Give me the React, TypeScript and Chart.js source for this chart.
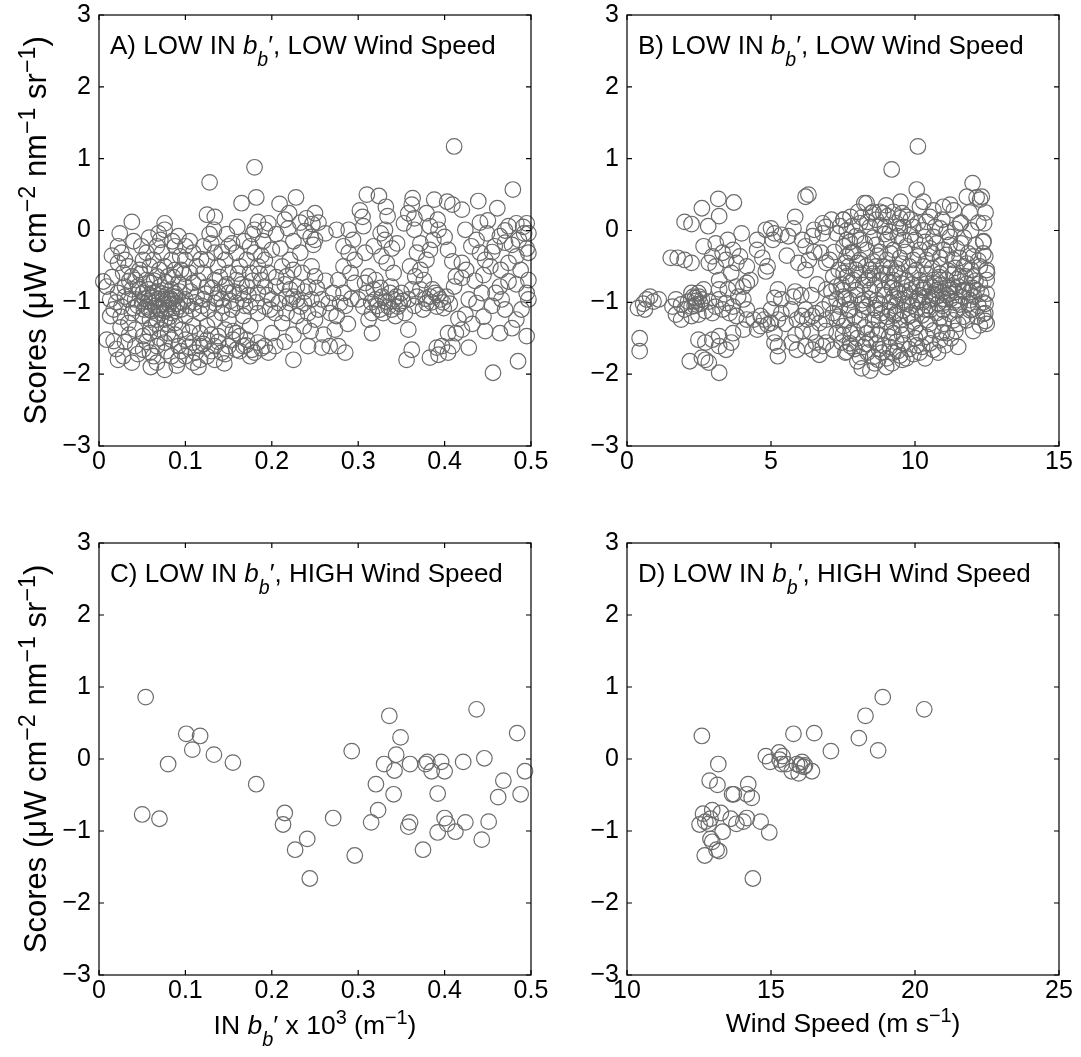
import React, { useEffect, useRef } from "react";
import { Chart, registerables } from "chart.js";

Chart.register(...registerables);

// ---------------- data ----------------
const yTicks = [-3, -2, -1, 0, 1, 2, 3];
const yTickLabels = ["\u22123", "\u22122", "\u22121", "0", "1", "2", "3"];
const inbbTicks = [0, 0.1, 0.2, 0.3, 0.4, 0.5];
const inbbTickLabels = ["0", "0.1", "0.2", "0.3", "0.4", "0.5"];
const windLowTicks = [0, 5, 10, 15];
const windLowTickLabels = ["0", "5", "10", "15"];
const windHighTicks = [10, 15, 20, 25];
const windHighTickLabels = ["10", "15", "20", "25"];

// Panel A: scores vs IN bb' (low IN bb', low wind)
const panelA: [number, number][] = [
  [0.411,1.17],[0.180,0.88],[0.128,0.67],[0.479,0.57],[0.182,0.46],[0.228,0.46],[0.165,0.38],[0.209,0.37],[0.310,0.50],[0.324,0.48],
  [0.363,0.45],[0.388,0.43],[0.403,0.40],[0.409,0.36],[0.439,0.41],[0.461,0.31],[0.362,0.36],[0.302,0.28],[0.332,0.33],[0.420,0.29],
  [0.334,0.20],[0.358,0.24],[0.379,0.24],[0.250,0.24],[0.125,0.22],[0.134,0.19],[0.220,0.24],[0.305,0.19],[0.365,0.17],[0.392,0.15],
  [0.441,0.11],[0.450,0.14],[0.038,0.12],[0.076,0.10],[0.133,0.01],[0.184,0.12],[0.180,0.01],[0.192,0.01],[0.240,0.17],[0.233,0.11],
  [0.247,0.09],[0.254,0.11],[0.238,-0.01],[0.245,-0.09],[0.250,-0.13],[0.262,-0.04],[0.248,-0.20],[0.219,0.03],[0.275,0.01],[0.289,0.01],
  [0.306,0.06],[0.326,-0.04],[0.331,0.01],[0.353,0.10],[0.365,0.01],[0.383,0.06],[0.393,0.01],[0.400,-0.09],[0.424,0.01],[0.495,0.10],
  [0.483,0.10],[0.474,0.06],[0.492,-0.04],[0.497,-0.04],[0.495,-0.25],[0.486,-0.13],[0.470,-0.17],[0.458,-0.22],[0.464,-0.08],[0.449,-0.04],
  [0.437,-0.13],[0.431,-0.22],[0.441,-0.31],[0.447,-0.41],[0.453,-0.50],[0.474,-0.45],[0.483,-0.36],[0.497,-0.31],[0.497,-0.69],[0.483,-0.75],
  [0.474,-0.71],[0.464,-0.78],[0.495,-0.87],[0.497,-0.96],[0.489,-1.10],[0.483,-1.24],[0.478,-1.36],[0.495,-1.47],[0.485,-1.82],[0.464,-1.43],
  [0.456,-1.98],[0.459,-0.87],[0.466,-0.96],[0.437,-1.01],[0.443,-0.87],[0.428,-0.96],[0.424,-1.17],[0.428,-1.63],[0.420,-1.38],[0.416,-1.23],
  [0.413,-1.43],[0.409,-1.61],[0.404,-1.43],[0.404,-1.70],[0.393,-1.73],[0.397,-1.61],[0.383,-1.77],[0.391,-1.63],[0.411,-0.78],[0.413,-0.64],
  [0.420,-0.66],[0.409,-0.43],[0.420,-0.45],[0.404,-0.27],[0.389,-0.87],[0.395,-0.96],[0.383,-0.92],[0.391,-1.06],[0.379,-1.01],[0.372,-0.82],
  [0.376,-0.69],[0.372,-0.55],[0.379,-0.41],[0.383,-0.27],[0.387,-0.13],[0.372,-0.18],[0.368,-0.31],[0.366,-0.64],[0.360,-0.50],[0.362,-0.82],
  [0.358,-0.96],[0.354,-1.15],[0.358,-1.38],[0.362,-1.66],[0.356,-1.80],[0.350,-0.87],[0.346,-1.06],[0.343,-1.19],[0.341,-0.96],[0.335,-1.06],
  [0.337,-0.87],[0.331,-0.99],[0.325,-1.10],[0.329,-1.15],[0.320,-0.96],[0.316,-1.15],[0.316,-1.43],[0.312,-1.24],[0.310,-0.87],[0.306,-1.06],
  [0.308,-0.73],[0.312,-0.64],[0.320,-0.69],[0.300,-0.96],[0.296,-0.73],[0.291,-0.59],[0.296,-0.41],[0.289,-0.31],[0.283,-0.22],[0.294,-0.13],
  [0.308,-0.31],[0.318,-0.22],[0.327,-0.36],[0.333,-0.45],[0.341,-0.59],[0.331,-0.13],[0.339,-0.25],[0.345,-0.18],[0.283,-0.50],[0.277,-0.69],
  [0.283,-0.87],[0.279,-1.01],[0.271,-0.87],[0.266,-1.01],[0.275,-1.19],[0.273,-1.38],[0.267,-1.61],[0.277,-1.61],[0.285,-1.70],[0.258,-1.63],
  [0.258,-0.96],[0.254,-1.10],[0.250,-1.24],[0.246,-0.96],[0.242,-1.15],[0.237,-1.33],[0.242,-1.61],[0.225,-1.80],[0.233,-1.06],[0.229,-1.19],
  [0.221,-1.01],[0.217,-1.15],[0.212,-1.29],[0.221,-0.82],[0.229,-0.78],[0.235,-0.59],[0.225,-0.55],[0.217,-0.64],[0.212,-0.50],[0.221,-0.41],
  [0.233,-0.31],[0.246,-0.50],[0.250,-0.64],[0.242,-0.78],[0.205,-0.78],[0.200,-0.96],[0.204,-1.15],[0.200,-1.43],[0.204,-1.61],[0.196,-1.70],
  [0.192,-1.61],[0.184,-1.56],[0.177,-1.66],[0.171,-1.52],[0.167,-1.61],[0.163,-1.47],[0.159,-1.43],[0.175,-1.75],[0.159,-1.66],[0.150,-1.61],
  [0.142,-1.70],[0.134,-1.80],[0.125,-1.75],[0.117,-1.80],[0.109,-1.84],[0.100,-1.75],[0.092,-1.80],[0.084,-1.75],[0.076,-1.94],[0.067,-1.84],
  [0.059,-1.70],[0.051,-1.66],[0.042,-1.61],[0.038,-1.84],[0.022,-1.80],[0.028,-1.75],[0.009,-1.52],[0.017,-1.54],[0.134,-1.61],[0.125,-1.52],
  [0.117,-1.43],[0.117,-1.61],[0.109,-1.56],[0.100,-1.52],[0.092,-1.61],[0.084,-1.52],[0.076,-1.56],[0.067,-1.61],[0.059,-1.43],[0.051,-1.47],
  [0.042,-1.38],[0.096,-1.38],[0.109,-1.33],[0.125,-1.33],[0.138,-1.47],[0.146,-1.38],[0.150,-1.24],[0.142,-1.15],[0.134,-1.24],[0.154,-1.10],
  [0.009,-0.78],[0.005,-0.71],[0.013,-0.96],[0.017,-1.10],[0.013,-1.19],[0.022,-0.87],[0.026,-1.06],[0.030,-0.78],[0.028,-0.59],[0.022,-0.45],
  [0.026,-0.31],[0.022,-0.22],[0.024,-0.04],[0.030,-0.41],[0.034,-0.50],[0.038,-0.64],[0.038,-0.82],[0.034,-0.96],[0.038,-1.15],[0.034,-1.29],
  [0.042,-0.96],[0.047,-0.82],[0.042,-0.69],[0.047,-0.55],[0.051,-0.41],[0.049,-0.22],[0.055,-0.31],[0.059,-0.50],[0.055,-0.69],[0.051,-0.87],
  [0.055,-1.06],[0.051,-1.19],[0.059,-1.24],[0.063,-0.87],[0.059,-0.73],[0.067,-0.64],[0.063,-0.41],[0.067,-0.22],[0.071,-0.13],[0.069,-0.04],
  [0.076,0.01],[0.073,-0.31],[0.076,-0.50],[0.071,-0.78],[0.067,-0.96],[0.071,-1.10],[0.067,-1.24],[0.076,-1.24],[0.080,-0.96],[0.084,-0.82],
  [0.080,-0.64],[0.084,-0.41],[0.088,-0.22],[0.092,-0.08],[0.094,-0.36],[0.088,-0.55],[0.092,-0.73],[0.088,-0.92],[0.092,-1.06],[0.084,-1.15],
  [0.088,-1.29],[0.080,-1.43],[0.071,-1.38],[0.100,-0.96],[0.100,-0.78],[0.105,-0.59],[0.100,-0.41],[0.100,-0.22],[0.109,-0.31],[0.113,-0.50],
  [0.109,-0.73],[0.113,-0.92],[0.109,-1.10],[0.100,-1.19],[0.117,-1.15],[0.121,-0.96],[0.125,-0.78],[0.121,-0.59],[0.125,-0.41],[0.121,-0.22],
  [0.130,-0.18],[0.134,-0.31],[0.138,-0.50],[0.134,-0.69],[0.138,-0.87],[0.134,-1.01],[0.142,-0.96],[0.146,-0.78],[0.150,-0.59],[0.146,-0.41],
  [0.150,-0.22],[0.154,-0.18],[0.159,-0.31],[0.163,-0.50],[0.159,-0.69],[0.163,-0.87],[0.159,-1.01],[0.167,-0.96],[0.171,-0.78],[0.175,-0.59],
  [0.171,-0.41],[0.175,-0.22],[0.180,-0.31],[0.184,-0.50],[0.188,-0.69],[0.184,-0.87],[0.192,-0.78],[0.196,-0.59],[0.192,-0.41],[0.200,-0.27],
  [0.190,-0.15],[0.175,-1.06],[0.184,-1.15],[0.175,-1.33],[0.192,-1.06],[0.167,-1.19],[0.150,-0.87],[0.208,-1.01],[0.217,-0.92],[0.229,-0.96],
  [0.237,-1.01],[0.060,-1.00],[0.065,-1.05],[0.070,-0.95],[0.075,-1.02],[0.080,-1.08],[0.085,-0.98],[0.062,-0.92],[0.078,-0.90],[0.072,-1.15],
  [0.058,-1.10],[0.090,-1.02],[0.068,-0.85],[0.045,-1.05],[0.050,-1.00],[0.082,-1.20],[0.095,-1.10],
  [0.015,-0.65],[0.020,-1.00],[0.025,-1.20],[0.030,-0.92],[0.035,-0.70],[0.040,-1.08],[0.045,-0.78],[0.048,-0.60],[0.053,-0.95],[0.057,-0.82],
  [0.061,-1.12],[0.064,-0.70],[0.066,-1.30],[0.070,-0.55],[0.073,-0.88],[0.077,-0.72],[0.079,-1.30],[0.083,-0.95],[0.086,-0.65],[0.089,-1.12],
  [0.093,-0.85],[0.097,-1.00],[0.098,-0.60],[0.103,-1.05],[0.106,-0.85],[0.111,-1.00],[0.115,-0.70],[0.119,-1.05],[0.123,-0.88],[0.127,-1.10],
  [0.131,-0.80],[0.136,-0.95],[0.140,-0.65],[0.144,-1.05],[0.148,-0.75],[0.152,-0.98],[0.156,-0.85],[0.161,-0.60],[0.165,-0.75],[0.169,-1.05],
  [0.173,-0.90],[0.178,-0.70],[0.182,-1.00],[0.186,-0.60],[0.195,-0.90],[0.198,-1.10],
  [0.020,-1.65],[0.030,-1.55],[0.045,-1.72],[0.055,-1.55],[0.063,-1.75],[0.070,-1.50],[0.078,-1.68],[0.088,-1.45],[0.095,-1.68],[0.104,-1.62],
  [0.112,-1.70],[0.121,-1.58],[0.130,-1.68],[0.138,-1.55],[0.146,-1.72],[0.155,-1.52],[0.163,-1.68],[0.170,-1.60],[0.180,-1.70],[0.188,-1.64],
  [0.060,-1.90],[0.090,-1.88],[0.115,-1.90],[0.145,-1.85],[0.105,-1.42],[0.130,-1.45],[0.155,-1.40],[0.060,-1.35],[0.035,-1.45],[0.025,-1.35],
  [0.015,-0.35],[0.040,-0.15],[0.058,-0.10],[0.085,-0.15],[0.095,-0.55],[0.105,-0.15],[0.118,-0.40],[0.128,-0.05],[0.142,-0.30],[0.148,-0.05],
  [0.160,0.05],[0.168,-0.15],[0.178,-0.05],[0.188,-0.35],[0.196,0.10],[0.205,-0.05],[0.210,-0.25],[0.215,0.15],[0.225,-0.15],
  [0.205,-0.65],[0.215,-0.75],[0.225,-0.92],[0.238,-0.85],[0.252,-0.80],[0.262,-0.70],[0.268,-1.15],[0.285,-1.05],[0.292,-0.95],[0.288,-1.30],
  [0.260,-1.45],[0.245,-1.40],[0.225,-1.45],[0.215,-1.55],
  [0.315,-1.00],[0.322,-1.05],[0.328,-0.92],[0.334,-1.00],[0.339,-1.10],[0.344,-0.92],[0.348,-1.02],[0.352,-0.98],[0.318,-0.82],[0.326,-0.80],
  [0.338,-0.78],[0.378,-0.95],[0.385,-1.00],[0.392,-0.90],[0.398,-1.00],[0.402,-0.92],[0.386,-0.82],[0.399,-1.08],[0.406,-1.02],[0.375,-1.10],
  [0.365,-1.05],[0.368,-0.92],
  [0.425,-0.55],[0.435,-0.70],[0.445,-0.62],[0.455,-0.30],[0.465,-0.55],[0.478,-0.20],[0.488,-0.55],[0.491,0.05],[0.470,0.00],[0.455,-1.05],
  [0.470,-1.10],[0.432,-1.30],[0.445,-1.20],[0.447,-1.40],
  [0.064,-1.00],[0.074,-0.96],[0.069,-1.08],[0.057,-0.98],[0.081,-1.02],[0.088,-0.88],[0.052,-1.10],[0.076,-1.12],
];

// Panel B: scores vs wind speed (low IN bb', low wind)
const panelB: [number, number][] = [
  [0.38,-1.08],[0.56,-1.02],[0.68,-0.96],[0.80,-0.92],[0.62,-1.10],[0.44,-1.50],[0.44,-1.68],[1.10,-0.96],[0.92,-0.99],
  [1.52,-0.38],[1.76,-0.38],[2.00,-0.41],[2.24,-0.45],[2.00,0.12],[2.24,0.09],[2.60,0.31],[2.82,0.06],[3.17,0.44],[3.20,0.20],[3.71,0.39],
  [2.66,-0.22],[2.84,-0.45],[2.96,-0.36],[3.08,-0.18],[3.32,-0.31],[3.50,-0.13],[3.44,-0.41],[3.68,-0.27],[3.80,-0.45],[3.92,-0.36],
  [4.16,-0.50],[4.52,-0.27],[4.70,-0.38],[4.88,-0.50],[4.82,-0.57],[4.52,-0.13],[4.16,-0.73],[4.28,-0.69],[3.62,-0.59],[3.20,-0.69],
  [3.08,-0.50],[3.98,-0.04],[4.82,0.01],[5.00,0.03],[5.12,-0.04],[5.06,-0.13],[5.36,-0.06],[5.60,-0.08],[5.84,0.19],[5.78,0.03],
  [6.08,-0.13],[6.20,0.47],[6.30,0.50],[6.44,-0.08],[6.50,0.01],[6.80,0.10],[6.20,-0.22],[6.20,-0.55],[6.32,-0.41],[6.80,-0.04],
  [6.74,-0.31],[6.92,-0.45],[5.84,-0.85],[5.78,-0.92],[5.24,-0.82],[5.12,-0.94],[5.36,-0.96],[5.00,-1.10],[5.24,-1.24],[5.12,-1.43],
  [5.24,-1.61],[5.24,-1.75],[5.12,-1.56],[5.36,-1.15],[4.76,-1.24],[4.64,-1.19],[4.88,-1.31],[5.00,-1.29],[4.64,-1.33],[4.40,-1.24],
  [4.52,-1.38],[4.16,-1.24],[4.04,-1.38],[3.68,-1.43],[3.62,-1.56],[3.20,-1.47],[2.96,-1.52],[2.72,-1.56],[3.20,-1.61],[3.44,-1.66],
  [2.72,-1.80],[2.84,-1.84],[2.60,-1.77],[2.18,-1.82],[3.20,-1.98],[2.48,-1.52],
  [2.24,-0.87],[2.36,-0.94],[2.48,-0.87],[2.60,-0.96],[2.42,-1.03],[2.24,-1.06],[2.12,-0.99],[2.00,-1.10],[1.88,-1.03],[1.70,-0.96],
  [1.58,-1.06],[1.70,-1.17],[1.88,-1.24],[2.24,-1.19],[2.48,-1.17],[2.72,-1.12],[2.66,-0.82],[2.84,-0.99],[2.96,-1.15],[3.08,-1.06],
  [3.20,-0.96],[3.32,-1.10],[3.44,-1.01],[3.56,-1.15],[3.68,-1.06],[3.80,-1.19],[3.86,-0.92],[4.04,-0.96],[4.16,-1.10],[3.80,-0.78],
  [3.50,-0.82],[4.04,-0.78],[3.20,-0.82],[2.30,-0.92],[2.40,-0.98],[2.50,-0.92],[2.35,-1.05],[2.55,-1.02],
  [5.90,-1.24],[6.08,-1.19],[6.26,-1.24],[6.20,-1.10],[6.44,-1.19],[6.56,-1.15],[6.80,-1.10],[6.68,-1.29],[6.92,-1.24],[7.16,-1.15],
  [7.04,-1.01],[7.28,-0.96],[7.40,-1.06],[5.72,-1.56],[5.90,-1.66],[6.20,-1.61],[6.56,-1.56],[6.44,-1.66],[6.80,-1.61],[6.68,-1.73],
  [6.92,-1.56],[7.16,-1.66],[7.28,-1.43],[7.46,-1.56],[7.28,-1.24],[7.52,-1.33],[7.04,-0.41],[7.16,-0.64],[7.28,-0.78],[6.92,-0.82],
  [7.52,-0.59],[7.52,-0.22],[7.40,0.06],[7.52,0.15],[7.28,-0.04],[7.76,0.19],[7.82,0.06],[7.64,-0.13],[7.76,-0.31],[7.70,-0.50],
  [7.76,-0.73],[7.52,-0.92],[7.70,-1.10],[7.76,-1.43],[7.58,-1.70],[7.76,-1.61],
  [9.19,0.85],[10.06,0.57],[12.00,0.66],[12.14,0.46],[12.32,0.47],[11.80,0.47],[11.22,0.36],[10.98,0.33],[10.29,0.40],[10.17,0.33],
  [10.64,0.28],[10.52,0.19],[11.56,0.10],[12.20,0.11],[8.32,0.38],[8.03,0.26],[8.55,0.26],[8.90,0.24],[9.25,0.26],[9.48,0.17],
  [9.71,0.19],[7.51,0.15],[7.63,0.00],[8.09,0.10],[8.44,0.05],[8.79,0.07],[9.13,-0.02],[9.48,0.03],[9.94,0.05],[10.29,0.00],
  [10.87,0.03],[11.22,-0.09],[10.64,-0.09],[10.00,-0.13],[9.60,-0.13],[9.02,-0.13],[8.55,-0.10],[8.09,-0.13],[7.74,-0.16],[12.37,-0.16],
  [12.37,-0.32],[12.02,-0.36],[11.85,-0.32],[11.45,-0.25],[11.00,-0.27],[10.52,-0.25],[10.17,-0.27],[9.71,-0.22],[9.25,-0.27],[8.79,-0.30],
  [8.32,-0.27],[7.86,-0.30],[7.63,-0.36],[8.09,-0.41],[8.55,-0.43],[9.02,-0.41],[9.48,-0.38],[9.94,-0.41],[10.40,-0.41],[10.87,-0.38],
  [11.33,-0.41],[11.80,-0.46],[12.25,-0.50],[12.49,-0.55],[12.49,-0.69],[12.49,-0.88],[12.45,-1.02],
  [12.25,-0.74],[12.02,-0.64],[11.80,-0.74],[11.56,-0.64],[11.33,-0.60],[11.10,-0.69],[10.87,-0.60],[10.64,-0.69],[10.40,-0.60],[10.17,-0.69],
  [9.94,-0.60],[9.71,-0.69],[9.48,-0.60],[9.25,-0.69],[9.02,-0.60],[8.79,-0.69],[8.55,-0.60],[8.32,-0.69],[8.09,-0.60],[7.86,-0.69],
  [7.63,-0.64],[7.51,-0.83],[7.97,-0.83],[8.44,-0.83],[8.90,-0.83],[9.37,-0.83],[9.83,-0.83],[10.29,-0.83],[10.75,-0.83],[11.22,-0.83],
  [11.68,-0.83],[12.14,-0.83],[7.74,-0.97],[8.20,-0.97],[8.67,-0.97],[9.13,-1.00],[9.60,-0.97],[10.06,-0.95],[10.52,-0.97],[10.98,-0.95],
  [11.45,-0.97],[11.91,-0.97],[12.37,-1.00],[12.37,-1.16],[12.49,-1.30],[12.02,-1.40],[11.50,-1.62],[11.91,-1.11],[11.45,-1.11],[10.98,-1.11],
  [10.52,-1.11],[10.06,-1.11],[9.60,-1.11],[9.13,-1.11],[8.67,-1.11],[8.20,-1.11],[7.74,-1.11],[7.63,-1.25],[8.09,-1.25],[8.55,-1.25],
  [9.02,-1.27],[9.48,-1.25],[9.94,-1.27],[10.40,-1.25],[10.87,-1.22],[11.33,-1.25],[11.68,-1.20],[11.10,-1.43],[10.64,-1.39],[10.17,-1.43],
  [9.71,-1.39],[9.25,-1.43],[8.79,-1.39],[8.32,-1.43],[7.86,-1.39],[7.74,-1.57],[8.20,-1.62],[8.67,-1.57],[9.13,-1.62],[9.60,-1.57],
  [10.06,-1.60],[10.52,-1.57],[10.87,-1.53],[8.09,-1.76],[8.55,-1.76],[9.02,-1.78],[9.48,-1.74],[8.15,-1.92],[7.63,-1.69],
  [10.17,-0.90],[10.64,-0.88],[11.10,-0.90],[10.40,-0.74],[10.87,-0.76],[11.33,-0.78],[9.71,-1.02],[9.25,-0.93],[8.79,-1.02],[8.32,-1.06],
  [8.44,-0.55],[8.90,-0.50],[9.37,-0.53],
  [10.10,1.17],[12.26,0.43],[11.60,0.11],[12.38,-0.15],[12.44,-0.36],[12.50,-0.59],[12.44,-1.26],[12.44,-1.15],[12.00,-1.10],[8.72,-1.80],
  [9.56,-1.80],[10.16,-1.70],[10.64,-1.66],[8.24,0.38],[8.48,0.24],[8.78,0.26],[9.56,0.24],
  [8.60,-0.76],[8.95,-0.90],[9.10,-0.72],[9.30,-1.05],[9.45,-0.88],[9.55,-0.74],[9.80,-0.92],[9.90,-1.05],[10.05,-0.78],[10.25,-1.00],
  [10.35,-0.92],[10.45,-1.05],[10.60,-0.95],[10.70,-0.74],[10.80,-1.02],[10.95,-0.86],[11.05,-1.00],[11.15,-0.80],[11.25,-0.95],[11.40,-0.86],
  [11.55,-1.03],[11.65,-0.92],[11.75,-0.64],[11.90,-0.86],[12.05,-0.92],[12.20,-1.05],[12.30,-0.88],[12.10,-0.70],[11.95,-0.55],[11.70,-0.50],
  [11.40,-0.52],[11.15,-0.56],[10.90,-0.48],[10.60,-0.52],[10.30,-0.50],[10.05,-0.55],[9.80,-0.50],[9.55,-0.46],[9.30,-0.60],[9.15,-0.52],
  [8.85,-0.60],[8.65,-0.50],[8.40,-0.66],[8.20,-0.76],[8.00,-0.90],[8.15,-1.02],[8.40,-0.95],[8.60,-1.08],[8.85,-1.15],[9.05,-1.20],
  [9.30,-1.18],[9.50,-1.32],[9.75,-1.20],[10.00,-1.35],[10.25,-1.18],[10.50,-1.30],[10.75,-1.15],[11.00,-1.30],[11.20,-1.16],[11.50,-1.30],
  [11.80,-1.25],[12.15,-1.20],[12.25,-1.32],
  [8.00,-1.50],[8.25,-1.35],[8.45,-1.52],[8.70,-1.45],[8.90,-1.60],[9.10,-1.48],[9.35,-1.55],[9.55,-1.45],[9.80,-1.65],[10.00,-1.50],
  [10.25,-1.62],[10.40,-1.48],[8.35,-1.70],[8.60,-1.85],[8.85,-1.70],[9.20,-1.85],[9.40,-1.68],[9.70,-1.78],[9.95,-1.72],[10.35,-1.78],
  [8.00,-1.82],[7.90,-1.65],[10.80,-1.70],[11.05,-1.60],[11.25,-1.50],[10.95,-1.42],[11.40,-1.40],
  [8.15,0.18],[8.35,0.12],[8.65,0.15],[8.95,0.05],[9.05,0.20],[9.35,0.10],[9.60,0.05],[9.85,0.15],[10.10,0.10],[10.40,0.12],
  [10.70,0.05],[10.95,0.15],[11.10,-0.02],[11.40,0.02],[11.70,-0.10],[11.95,0.00],[12.10,-0.20],[11.60,-0.18],[11.20,-0.20],[10.75,-0.18],
  [10.35,-0.16],[9.85,-0.06],[9.40,-0.08],[8.95,-0.05],[8.65,-0.20],[8.25,-0.18],[7.95,-0.08],[8.00,-0.45],[8.30,-0.50],[8.70,-0.35],
  [9.15,-0.32],[9.65,-0.30],[10.10,-0.36],[10.60,-0.32],[11.10,-0.34],[11.55,-0.38],[12.20,-0.42],[9.00,0.35],[9.50,0.40],[11.35,0.28],
  [11.90,0.25],[12.40,0.10],[12.45,0.25],
  [7.20,-0.30],[7.35,-0.55],[7.10,-0.85],[7.45,-0.75],[7.60,-0.45],[7.35,-1.20],[7.60,-0.95],[7.50,-1.45],[7.90,-1.20],[7.95,-0.55],
  [6.05,-0.90],[6.40,-0.90],[6.60,-0.75],[5.95,-0.45],[5.55,-0.35],[5.70,-1.10],[6.10,-1.40],[6.40,-1.42],[6.90,-1.40],[5.50,-1.30],
  [5.85,-1.45],[6.50,-0.30],[6.90,0.05],[7.10,0.15],
  [9.20,-0.80],[9.40,-0.95],[9.65,-0.85],[9.90,-0.75],[10.10,-0.98],[10.30,-0.80],[10.55,-0.78],[10.75,-0.92],[10.95,-1.05],[11.20,-0.88],
  [11.35,-1.00],[11.50,-0.78],[11.70,-0.85],[11.85,-1.02],[12.00,-0.80],[9.35,-1.15],[9.85,-1.18],[10.35,-1.10],[10.85,-0.65],[11.45,-0.68],
  [8.75,-1.25],[9.20,-1.35],[8.50,-1.38],[8.30,-1.58],[8.75,-1.65],[9.25,-1.70],[8.45,-1.95],[9.00,-1.90],
];

// Panel C: scores vs IN bb' (low IN bb', high wind)
const panelC: [number, number][] = [
  [0.054,0.86],[0.050,-0.77],[0.070,-0.83],[0.080,-0.07],[0.101,0.35],[0.108,0.13],[0.117,0.32],[0.133,0.06],[0.155,-0.05],[0.182,-0.35],
  [0.215,-0.75],[0.213,-0.91],[0.227,-1.26],[0.241,-1.11],[0.244,-1.66],[0.271,-0.82],[0.2925,0.11],[0.296,-1.34],[0.315,-0.88],[0.3205,-0.35],
  [0.323,-0.71],[0.330,-0.07],[0.336,0.60],[0.341,-0.49],[0.342,-0.16],[0.344,0.06],[0.349,0.30],[0.360,-0.07],[0.360,-0.88],[0.358,-0.94],
  [0.375,-1.26],[0.378,-0.07],[0.380,-0.04],[0.385,-0.17],[0.392,-0.48],[0.392,-1.02],[0.396,-0.04],[0.400,-0.17],[0.400,-0.82],[0.403,-0.90],
  [0.4125,-1.01],[0.4215,-0.04],[0.424,-0.88],[0.437,0.69],[0.443,-1.12],[0.446,0.01],[0.451,-0.87],[0.462,-0.53],[0.468,-0.30],[0.484,0.36],
  [0.488,-0.49],[0.493,-0.17],
];

// Panel D: scores vs wind speed (low IN bb', high wind)
const panelD: [number, number][] = [
  [12.60,0.32],[13.17,-0.07],[12.87,-0.30],[13.14,-0.36],[13.65,-0.49],[13.71,-0.49],[14.21,-0.35],[14.16,-0.49],[14.33,-0.54],[12.64,-0.76],
  [12.96,-0.71],[13.26,-0.75],[12.52,-0.91],[12.72,-0.87],[12.84,-0.90],[12.90,-0.83],[13.60,-0.83],[13.80,-0.90],[14.04,-0.87],[14.16,-0.82],
  [14.64,-0.87],[13.32,-1.01],[14.94,-1.02],[12.90,-1.11],[12.96,-1.15],[13.11,-1.26],[13.20,-1.28],[12.70,-1.34],[14.37,-1.66],[14.82,0.04],
  [14.97,-0.04],[15.28,0.09],[15.30,-0.01],[15.40,0.04],[15.37,-0.07],[15.78,0.35],[15.72,-0.17],[15.90,-0.07],[15.96,-0.20],[16.08,-0.04],
  [16.14,-0.11],[16.18,-0.09],[16.42,-0.17],[16.50,0.36],[17.08,0.11],[18.05,0.29],[18.28,0.60],[18.72,0.12],[18.88,0.86],[20.32,0.69],
  [16.00,-0.09],[15.52,-0.07],
];

// ---------------- styling ----------------
const FONT = '"Liberation Sans", Arial, Helvetica, sans-serif';
const TICK_SIZE = 25;
const TITLE_SIZE = 26;
const XLABEL_SIZE = 26.5;
const YLABEL_SIZE = 31;
const MARKER_COLOR = "#6b6b6b";
const TICK_LEN = 5;

type Seg = { t: string; it?: boolean; sub?: boolean; sup?: boolean };

function segFont(s: Seg, size: number) {
  const sz = s.sub || s.sup ? size * 0.75 : size;
  return `${s.it ? "italic " : ""}${sz}px ${FONT}`;
}

function drawRich(ctx: CanvasRenderingContext2D, segs: Seg[], x: number, y: number, size: number, align: "left" | "center") {
  const widths = segs.map((s) => {
    ctx.font = segFont(s, size);
    return ctx.measureText(s.t).width;
  });
  const total = widths.reduce((a, b) => a + b, 0);
  let cx = align === "center" ? x - total / 2 : x;
  ctx.textAlign = "left";
  ctx.textBaseline = "alphabetic";
  segs.forEach((s, i) => {
    ctx.font = segFont(s, size);
    const dy = s.sub ? size * 0.45 : s.sup ? -size * 0.36 : 0;
    ctx.fillText(s.t, cx, y + dy);
    cx += widths[i];
  });
}

const titleSegs = (letter: string, wind: string): Seg[] => [
  { t: `${letter}) LOW IN ` },
  { t: "b", it: true },
  { t: "b", it: true, sub: true },
  { t: "\u2032" },
  { t: `, ${wind} Wind Speed` },
];

const yTitleSegs: Seg[] = [
  { t: "Scores (\u03bcW cm" },
  { t: "\u22122", sup: true },
  { t: " nm" },
  { t: "\u22121", sup: true },
  { t: " sr" },
  { t: "\u22121", sup: true },
  { t: ")" },
];

const xTitleInbb: Seg[] = [
  { t: "IN " },
  { t: "b", it: true },
  { t: "b", it: true, sub: true },
  { t: "\u2032 x 10" },
  { t: "3", sup: true },
  { t: " (m" },
  { t: "\u22121", sup: true },
  { t: ")" },
];

const xTitleWind: Seg[] = [
  { t: "Wind Speed (m s" },
  { t: "\u22121", sup: true },
  { t: ")" },
];

type Panel = {
  key: string;
  data: [number, number][];
  xMin: number;
  xMax: number;
  xTicks: number[];
  xLabels: string[];
  wind: string;
  yTitle: boolean;
  xTitle: Seg[] | null;
  xTitleBaseline: number;
  left: number;
  top: number;
  width: number;
  height: number;
  plotLeft: number;
  plotTop: number;
  plotRight: number;
  plotBottom: number;
};

const PANELS: Panel[] = [
  { key: "A", data: panelA, xMin: 0, xMax: 0.5, xTicks: inbbTicks, xLabels: inbbTickLabels, wind: "LOW", yTitle: true, xTitle: null, xTitleBaseline: 0,
    left: 0, top: 0, width: 580, height: 520, plotLeft: 99, plotTop: 15, plotRight: 531, plotBottom: 446 },
  { key: "B", data: panelB, xMin: 0, xMax: 15, xTicks: windLowTicks, xLabels: windLowTickLabels, wind: "LOW", yTitle: false, xTitle: null, xTitleBaseline: 0,
    left: 560, top: 0, width: 521, height: 520, plotLeft: 627, plotTop: 15, plotRight: 1059, plotBottom: 446 },
  { key: "C", data: panelC, xMin: 0, xMax: 0.5, xTicks: inbbTicks, xLabels: inbbTickLabels, wind: "HIGH", yTitle: true, xTitle: xTitleInbb, xTitleBaseline: 1034,
    left: 0, top: 520, width: 580, height: 537, plotLeft: 99, plotTop: 543, plotRight: 531, plotBottom: 975 },
  { key: "D", data: panelD, xMin: 10, xMax: 25, xTicks: windHighTicks, xLabels: windHighTickLabels, wind: "HIGH", yTitle: false, xTitle: xTitleWind, xTitleBaseline: 1032,
    left: 560, top: 520, width: 521, height: 537, plotLeft: 627, plotTop: 543, plotRight: 1059, plotBottom: 975 },
];

function framePlugin(p: Panel) {
  return {
    id: "matlabFrame" + p.key,
    afterDraw(chart: any) {
      const { ctx, chartArea: a, scales } = chart;
      const xs = scales.x;
      const ys = scales.y;
      ctx.save();
      ctx.strokeStyle = "#000";
      ctx.lineWidth = 1.2;
      ctx.beginPath();
      p.xTicks.forEach((v) => {
        const px = xs.getPixelForValue(v);
        ctx.moveTo(px, a.bottom);
        ctx.lineTo(px, a.bottom - TICK_LEN);
        ctx.moveTo(px, a.top);
        ctx.lineTo(px, a.top + TICK_LEN);
      });
      yTicks.forEach((v) => {
        const py = ys.getPixelForValue(v);
        ctx.moveTo(a.left, py);
        ctx.lineTo(a.left + TICK_LEN, py);
        ctx.moveTo(a.right, py);
        ctx.lineTo(a.right - TICK_LEN, py);
      });
      ctx.stroke();
      ctx.strokeRect(a.left, a.top, a.right - a.left, a.bottom - a.top);

      ctx.fillStyle = "#000";
      drawRich(ctx, titleSegs(p.key, p.wind), a.left + 11, a.top + 39, TITLE_SIZE, "left");

      if (p.yTitle) {
        ctx.save();
        ctx.translate(46, (a.top + a.bottom) / 2);
        ctx.rotate(-Math.PI / 2);
        drawRich(ctx, yTitleSegs, 0, 0, YLABEL_SIZE, "center");
        ctx.restore();
      }
      if (p.xTitle) {
        drawRich(ctx, p.xTitle, (a.left + a.right) / 2, p.xTitleBaseline - p.top, XLABEL_SIZE, "center");
      }
      ctx.restore();
    },
  };
}

function PanelChart({ p }: { p: Panel }) {
  const ref = useRef<HTMLCanvasElement | null>(null);
  useEffect(() => {
    if (!ref.current) return;
    const xAxisHeight = p.top + p.height - p.plotBottom;
    const yAxisWidth = p.plotLeft - p.left;
    const chart = new Chart(ref.current, {
      type: "scatter",
      data: {
        datasets: [
          {
            data: p.data.map(([x, y]) => ({ x, y })),
            pointRadius: 7.8,
            pointBorderWidth: 1.2,
            pointBorderColor: MARKER_COLOR,
            pointBackgroundColor: "rgba(0,0,0,0)",
            pointStyle: "circle",
            showLine: false,
            clip: false as any,
          },
        ],
      },
      options: {
        animation: false,
        responsive: false,
        maintainAspectRatio: false,
        devicePixelRatio: 1,
        events: [],
        layout: {
          padding: { left: 0, top: p.plotTop - p.top, right: p.left + p.width - p.plotRight, bottom: 0 },
        },
        plugins: { legend: { display: false }, tooltip: { enabled: false }, title: { display: false } },
        scales: {
          x: {
            type: "linear",
            position: "bottom",
            min: p.xMin,
            max: p.xMax,
            afterBuildTicks: (s: any) => {
              s.ticks = p.xTicks.map((v) => ({ value: v }));
            },
            afterFit: (s: any) => {
              s.height = xAxisHeight;
              s.paddingLeft = 0;
              s.paddingRight = 0;
              s.paddingTop = 0;
              s.paddingBottom = 0;
            },
            grid: { display: false, drawTicks: false },
            border: { display: false },
            ticks: {
              color: "#000",
              font: { family: FONT, size: TICK_SIZE, lineHeight: 1 },
              padding: 4,
              maxRotation: 0,
              autoSkip: false,
              callback: (_v: any, i: number) => p.xLabels[i],
            },
          },
          y: {
            type: "linear",
            position: "left",
            min: -3,
            max: 3,
            afterBuildTicks: (s: any) => {
              s.ticks = yTicks.map((v) => ({ value: v }));
            },
            afterFit: (s: any) => {
              s.width = yAxisWidth;
              s.paddingLeft = 0;
              s.paddingRight = 0;
              s.paddingTop = 0;
              s.paddingBottom = 0;
            },
            grid: { display: false, drawTicks: false },
            border: { display: false },
            ticks: {
              color: "#000",
              font: { family: FONT, size: TICK_SIZE, lineHeight: 1 },
              padding: 8,
              autoSkip: false,
              callback: (_v: any, i: number) => yTickLabels[i],
            },
          },
        },
      },
      plugins: [framePlugin(p)],
    } as any);
    return () => chart.destroy();
  }, [p]);
  return (
    <canvas
      ref={ref}
      width={p.width}
      height={p.height}
      style={{ position: "absolute", left: p.left, top: p.top, width: p.width, height: p.height }}
    />
  );
}

export default function App() {
  return (
    <div style={{ position: "absolute", left: 0, top: 0, width: 1081, height: 1057, background: "#fff" }}>
      {PANELS.map((p) => (
        <PanelChart key={p.key} p={p} />
      ))}
    </div>
  );
}
